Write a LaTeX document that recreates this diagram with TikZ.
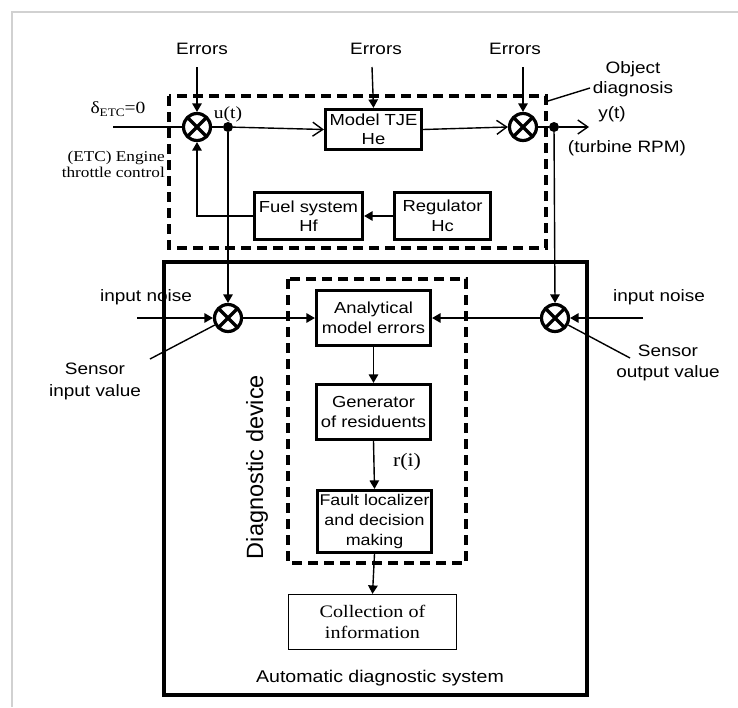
\documentclass[tikz,border=0pt]{standalone}
\usepackage{fontspec}
\setmainfont{Liberation Sans}[FakeStretch=1.15]
\newfontfamily\srf{Liberation Serif}[FakeStretch=1.15]
\newfontfamily\plainsans{Liberation Sans}
\usetikzlibrary{arrows.meta}
\begin{document}
\begin{tikzpicture}[x=1pt,y=-1pt,
  conn/.style={line width=1.4pt},
  tri/.style={conn,-{Triangle[length=8.5pt,width=9.5pt]}},
  opn/.style={conn,-{Straight Barb[length=10pt,width=14pt,line width=1.4pt]}},
  blk/.style={draw,line width=3.2pt,align=center,inner sep=0pt,font=\fontsize{16}{19.5}\selectfont},
  sumj/.style={circle,draw,line width=3.2pt,minimum size=27pt,inner sep=0pt,
    path picture={\draw[line width=3.2pt] (path picture bounding box.north west)--(path picture bounding box.south east)
      (path picture bounding box.north east)--(path picture bounding box.south west);}},
  dot/.style={circle,fill,inner sep=0pt,minimum size=10pt},
  lbl/.style={inner sep=0pt,font=\fontsize{16.5}{20}\selectfont},
  slbl/.style={inner sep=0pt,font=\srf\fontsize{15}{16}\selectfont},
  dashbox/.style={line width=3.2pt,dash pattern=on 10pt off 6pt},
]
\useasboundingbox (0,0) rectangle (738,707);
% gray frame
\draw[line width=2pt,color=black!18] (12,707) -- (12,12) -- (738,12);

% dashed and solid frames
\draw[dashbox] (169,96) rectangle (546,248);
\draw[line width=3.2pt] (164,262) rectangle (587,695);
\draw[dashbox] (288,279) rectangle (466,563);

% summing junctions and dots
\node[sumj] (s1) at (197,127) {};
\node[sumj] (s2) at (523,127) {};
\node[sumj] (s3) at (228,318) {};
\node[sumj] (s4) at (555,318) {};
\node[dot] (u) at (228,127) {};
\node[dot] (y) at (554,127) {};

% blocks
\node[blk,minimum width=96pt,minimum height=40pt] (model) at (373.5,129.5) {Model TJE\\He};
\node[blk,minimum width=108pt,minimum height=47pt] (fuel) at (308.5,216) {Fuel system\\Hf};
\node[blk,minimum width=96pt,minimum height=47pt] (reg) at (442.5,216) {Regulator\\Hc};
\node[blk,minimum width=114pt,minimum height=55pt] (ana) at (373.5,318) {Analytical\\model errors};
\node[blk,minimum width=114pt,minimum height=55pt] (gen) at (373.5,412) {Generator\\of residuents};
\node[blk,minimum width=114pt,minimum height=62pt,font=\fontsize{15.5}{20}\selectfont] (fault) at (374.5,521.5) {Fault localizer\\and decision\\making};
\node[draw,line width=1.2pt,minimum width=168pt,minimum height=55pt,align=center,inner sep=0pt,
  font=\srf\fontsize{17.5}{21}\selectfont] (coll) at (372.5,622) {Collection of\\information};

% labels
\node[lbl,anchor=base] (er1) at (202,54) {Errors};
\node[lbl,anchor=base] (er2) at (376,54) {Errors};
\node[lbl,anchor=base] (er3) at (515,54) {Errors};
\node[inner sep=0pt,anchor=base,font=\srf\fontsize{17}{18}\selectfont] (delta) at (118,113)
  {δ\raisebox{-3pt}{\fontsize{11.5}{12}\selectfont ETC}=0};
\node[slbl,anchor=east,align=right] (etc) at (165,164) {(ETC) Engine\\throttle control};
\node[inner sep=0pt,anchor=base,font=\srf\fontsize{17}{18}\selectfont] (ut) at (228,118) {u(t)};
\node[lbl,anchor=base] (yt) at (612,118) {y(t)};
\node[lbl,anchor=base] (rpm) at (627,152) {(turbine RPM)};
\node[lbl,align=center] (obj) at (633,79) {Object\\diagnosis};
\node[lbl,anchor=base] (nl) at (146,301) {input noise};
\node[lbl,anchor=base] (nr) at (659,301) {input noise};
\node[lbl,align=center,font=\fontsize{16.5}{22}\selectfont] (siv) at (95,381) {Sensor\\input value};
\node[lbl,align=center,font=\fontsize{16.5}{21}\selectfont] (sov) at (668,363) {Sensor\\output value};
\node[inner sep=0pt,rotate=90,font=\plainsans\fontsize{23.5}{24}\selectfont] (dd) at (257,467) {Diagnostic device};
\node[inner sep=0pt,font=\srf\fontsize{19}{20}\selectfont] (ri) at (407,462) {r(i)};
\node[lbl,anchor=base,font=\fontsize{17}{20}\selectfont] (ads) at (380,682) {Automatic diagnostic system};

% coordinates for free ends
\coordinate (din) at (113,127);
\coordinate (e1) at (197,67);
\coordinate (e2) at (372,67);
\coordinate (e3) at (523,67);
\coordinate (yout) at (589,127);
\coordinate (nin) at (137,318);
\coordinate (nout) at (643,318);
\coordinate (sin) at (150,359);
\coordinate (sout) at (630,358);
\coordinate (objp) at (548,101);
\coordinate (objl) at (590,88);

% connectors
\draw[conn] (din) -- (s1.west);
\draw[conn] (s1.east) -- (u);
\draw[opn] (u) -- (model.west);
\draw[opn] (model.east) -- (s2.west);
\draw[conn] (s2.east) -- (y);
\draw[opn] (y) -- (yout);
\draw[tri] (e1) -- (s1.north);
\draw[tri] (e2) -- (model.north);
\draw[tri] (e3) -- (s2.north);
\draw[tri] (reg.west) -- (fuel.east);
\draw[tri] (fuel.west) -| (s1.south);
\draw[tri] (u) -- (s3.north);
\draw[tri] (y) -- (s4.north);
\draw[tri] (nin) -- (s3.west);
\draw[tri] (nout) -- (s4.east);
\draw[tri] (s3.east) -- (ana.west);
\draw[tri] (s4.west) -- (ana.east);
\draw[conn] (s3.208) -- (sin);
\draw[conn] (s4.-28) -- (sout);
\draw[conn] (objp) -- (objl);
\draw[tri] (ana.south) -- (gen.north);
\draw[tri] (gen.south) -- (fault.north);
\draw[tri] (fault.south) -- (coll.north);
\end{tikzpicture}
\end{document}
